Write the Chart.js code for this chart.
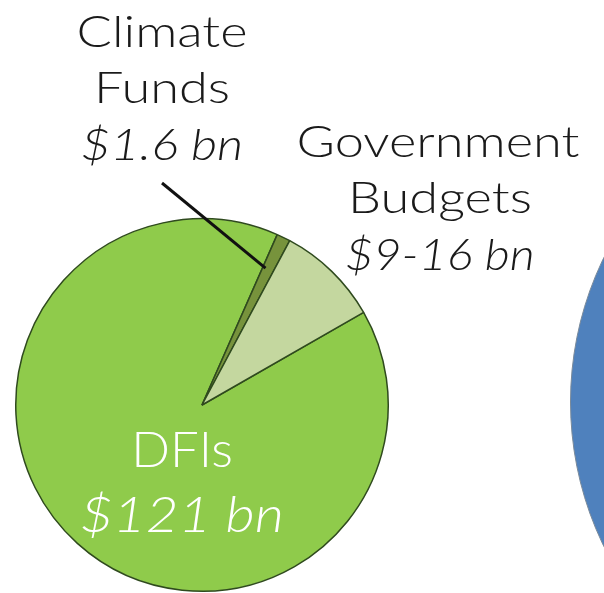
<!DOCTYPE html>
<html>
<head>
<meta charset="utf-8">
<script src="https://cdn.jsdelivr.net/npm/chart.js@4/dist/chart.umd.min.js"></script>
<style>
  html, body { margin: 0; padding: 0; background: #ffffff; overflow: hidden; }
  body { width: 604px; height: 593px; position: relative; }
  #main { position: absolute; left: 0; top: 0; }
  #other { position: absolute; left: 570px; top: 72px; }
</style>
</head>
<body>
<canvas id="other" width="660" height="660"></canvas>
<canvas id="main" width="604" height="593"></canvas>
<script>
// Sources of public climate finance (US$ bn)
const categories = ['DFIs', 'Climate Funds', 'Government Budgets'];
const values = [121, 1.6, 12];
const valueLabels = ['$121 bn', '$1.6 bn', '$9-16 bn'];
const sliceColors = ['#8fcb4b', '#77933c', '#c4d79f'];

// Neighbouring (much larger) circle, only its edge shows
const otherCategories = [''];
const otherValues = [1];

const FONT = 'Lato, "Open Sans", sans-serif';

// Wide, light lettering: stretch the glyphs horizontally around the anchor
function wideText(ctx, text, x, y, font, stretch) {
  ctx.save();
  ctx.font = font;
  ctx.translate(x, y);
  ctx.scale(stretch, 1);
  ctx.fillText(text, 0, 0);
  ctx.restore();
}

const labelPlugin = {
  id: 'sliceLabels',
  afterDraw(chart) {
    const ctx = chart.ctx;
    const plain = '300 44px ' + FONT;
    const italic = 'italic 300 44px ' + FONT;
    const k = 1.19;
    ctx.save();
    ctx.textAlign = 'center';
    ctx.textBaseline = 'alphabetic';

    // Climate Funds label with leader line
    ctx.fillStyle = '#1a1a1a';
    wideText(ctx, 'Climate', 162, 47, plain, k);
    wideText(ctx, 'Funds', 162, 103, plain, k);
    wideText(ctx, valueLabels[1], 162, 160, italic, 1.15);

    const arc = chart.getDatasetMeta(0).data[1];
    const ang = arc.startAngle + (arc.endAngle - arc.startAngle) * 0.25;
    const r = arc.outerRadius * 0.81;
    ctx.strokeStyle = '#111111';
    ctx.lineWidth = 3;
    ctx.beginPath();
    ctx.moveTo(162, 183);
    ctx.lineTo(arc.x + Math.cos(ang) * r, arc.y + Math.sin(ang) * r);
    ctx.stroke();

    // Government Budgets label
    wideText(ctx, 'Government', 438, 157, plain, k);
    wideText(ctx, 'Budgets', 440, 213, plain, k);
    wideText(ctx, valueLabels[2], 440, 270, italic, 1.1);

    // DFIs label inside the slice
    ctx.fillStyle = '#ffffff';
    wideText(ctx, categories[0], 182, 467, '300 50px ' + FONT, 1.02);
    wideText(ctx, valueLabels[0], 182, 532, 'italic 300 50px ' + FONT, 1.13);
    ctx.restore();
  }
};

new Chart(document.getElementById('main'), {
  type: 'pie',
  data: {
    labels: categories,
    datasets: [{
      data: values,
      backgroundColor: sliceColors,
      borderColor: '#2f4a1e',
      borderWidth: 1.5
    }]
  },
  options: {
    responsive: false,
    devicePixelRatio: 1,
    animation: false,
    rotation: 60.2,
    layout: { padding: { left: 15, top: 218, right: 215, bottom: 1 } },
    plugins: { legend: { display: false }, tooltip: { enabled: false } }
  },
  plugins: [labelPlugin]
});

new Chart(document.getElementById('other'), {
  type: 'pie',
  data: {
    labels: otherCategories,
    datasets: [{
      data: otherValues,
      backgroundColor: ['#4f81bd'],
      borderColor: '#7a8a9a',
      borderWidth: 1
    }]
  },
  options: {
    responsive: false,
    devicePixelRatio: 1,
    animation: false,
    layout: { padding: 0 },
    plugins: { legend: { display: false }, tooltip: { enabled: false } }
  }
});
</script>
</body>
</html>
